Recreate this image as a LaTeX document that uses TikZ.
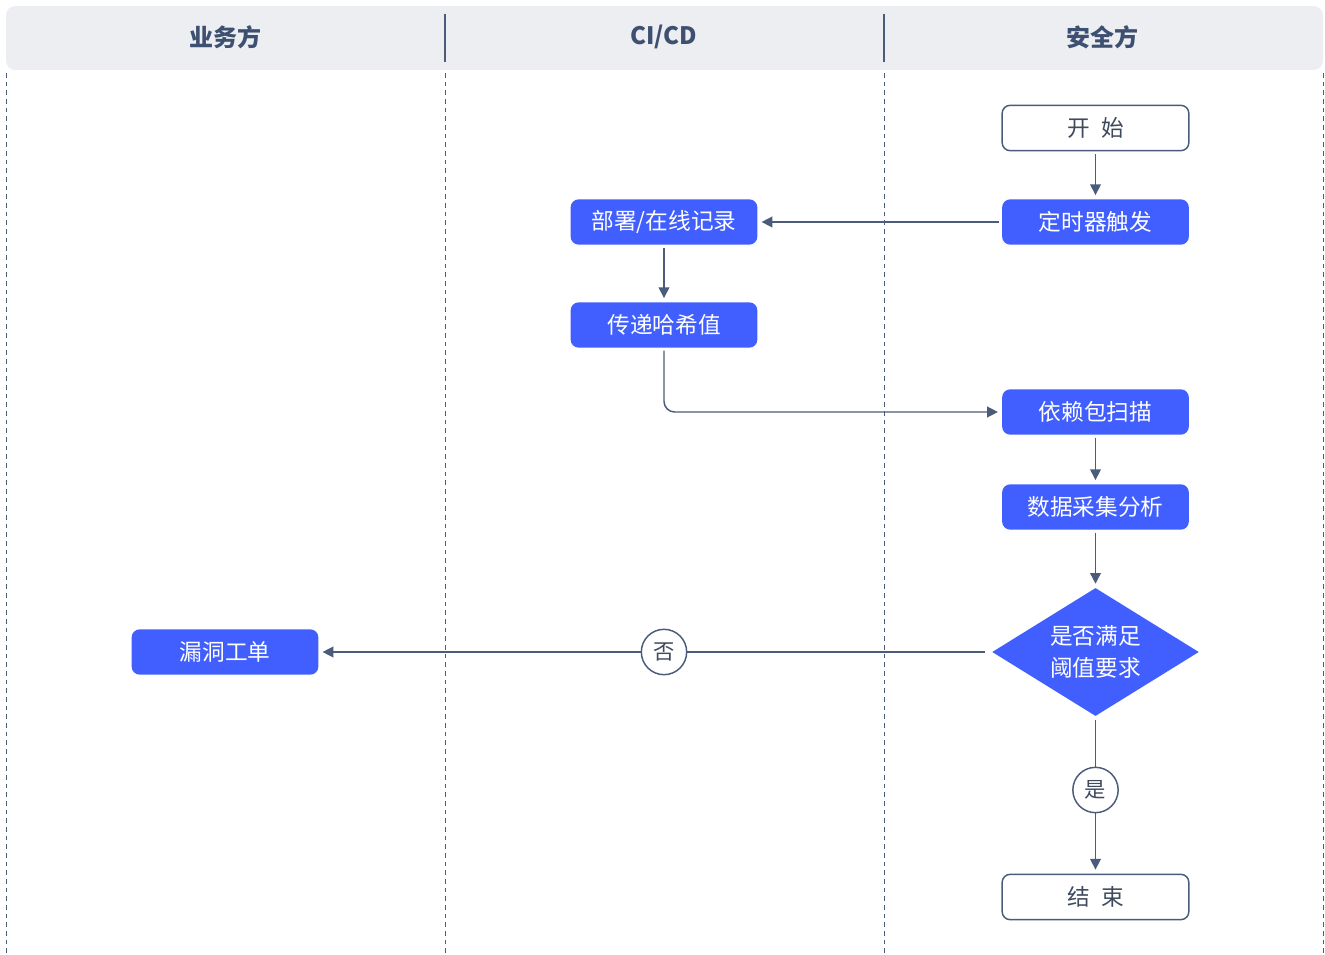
\documentclass[tikz,border=0pt]{standalone}
\usepackage{fontspec}
\setmainfont{Noto Sans CJK SC}
\usepackage{tikz}
\usetikzlibrary{arrows.meta,shapes.geometric}
\usepackage{xcolor}
\definecolor{FlowBlue}{HTML}{415FFF}
\definecolor{LineGrey}{HTML}{4B5C7A}
\definecolor{HeadTint}{HTML}{ECEEF2}
\definecolor{HeadText}{HTML}{3E5071}
\definecolor{TermText}{HTML}{3F4A5E}
\tikzset{
  proc/.style={fill=FlowBlue, rounded corners=6pt, minimum width=140pt, minimum height=34pt,
               inner sep=0pt, text=white, font=\fontsize{17}{20}\selectfont},
  term/.style={proc, fill=white, draw=LineGrey, line width=1.1pt, text=TermText},
  decide/.style={diamond, aspect=1.6, fill=FlowBlue, minimum width=155pt, minimum height=96pt, inner sep=0pt,
                 align=center, text=white, font=\fontsize{17}{24}\selectfont},
  tag/.style={circle, draw=LineGrey, line width=1.1pt, fill=white, minimum size=34pt, inner sep=0pt,
              text=TermText, font=\fontsize{16}{18}\selectfont},
  head/.style={text=HeadText, font=\fontsize{18}{21}\selectfont\bfseries},
  lane/.style={LineGrey, line width=0.7pt, dash pattern=on 3.5pt off 3pt},
  flowline/.style={LineGrey, line width=1.1pt, shorten <=2pt, shorten >=3pt},
  flow/.style={flowline, -{Triangle[length=8pt,width=8pt]}},
}

\begin{document}
\begin{tikzpicture}[x=0.75pt, y=-0.75pt]
  \useasboundingbox (0,0) rectangle (1325,955);
  % header band and swim lanes
  \fill[HeadTint, rounded corners=7pt] (6,6) rectangle (1323,70);
  \foreach \x in {445,884} \draw[LineGrey, line width=0.8pt] (\x,14) -- (\x,62);
  \foreach \x in {6,445,884,1323} \draw[lane] (\x,73) -- (\x,955);
  \node[head] (h1) at (225,37) {业务方};
  \node[head] (h2) at (664,37) {CI/CD};
  \node[head] (h3) at (1102,37) {安全方};

  % steps
  \node[term] (start) at (1095.5,128) {开\enspace 始};
  \node[proc] (trig) at (1095.5,222) {定时器触发};
  \node[proc] (deploy) at (664,222) {部署/在线记录};
  \node[proc] (hash) at (664,325) {传递哈希值};
  \node[proc] (scan) at (1095.5,412) {依赖包扫描};
  \node[proc] (collect) at (1095.5,507) {数据采集分析};
  \node[decide] (judge) at (1095.5,652) {是否满足\\阈值要求};
  \node[proc] (ticket) at (225,652) {漏洞工单};
  \node[tag] (no) at (664,652) {否};
  \node[tag] (yes) at (1095.5,790) {是};
  \node[term] (stop) at (1095.5,897) {结\enspace 束};

  % connectors
  \draw[flow] (start) -- (trig);
  \draw[flow] (trig) -- (deploy);
  \draw[flow] (deploy) -- (hash);
  \draw[flow, rounded corners=8pt] (hash) |- (scan);
  \draw[flow] (scan) -- (collect);
  \draw[flow] (collect) -- (judge);
  \draw[flowline, shorten <=5pt, shorten >=0pt] (judge) -- (no);
  \draw[flow, shorten <=0pt] (no) -- (ticket);
  \draw[flowline, shorten <=3pt, shorten >=0pt] (judge) -- (yes);
  \draw[flow, shorten <=0pt] (yes) -- (stop);
\end{tikzpicture}
\end{document}
